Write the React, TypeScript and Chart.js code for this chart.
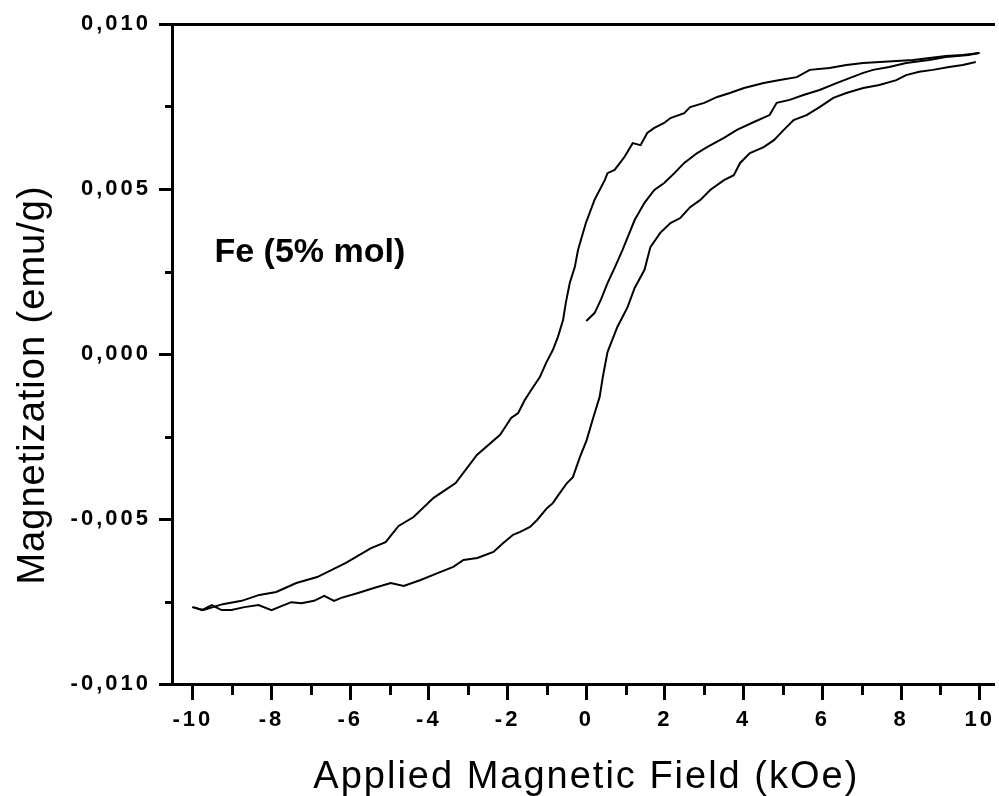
import React, { useEffect, useRef } from "react";
import { Chart, registerables } from "chart.js";

Chart.register(...registerables);

// Descending branch (from +10 kOe to -10 kOe)
const descH = [10.0, 9.57, 9.14, 8.31, 7.04, 6.61, 6.18, 5.68, 5.35, 4.92, 4.51, 4.01, 3.65, 3.33, 3.0, 2.64, 2.49, 2.14, 1.98, 1.73, 1.55, 1.38, 1.18, 0.97, 0.72, 0.54, 0.47, 0.21, -0.01, -0.21, -0.29, -0.42, -0.52, -0.59, -0.72, -0.85, -1.02, -1.18, -1.4, -1.56, -1.73, -1.91, -2.06, -2.19, -2.78, -3.32, -3.88, -4.39, -4.77, -5.1, -5.47, -6.11, -6.84, -7.37, -7.88, -8.31, -8.76, -9.24, -9.73, -10.02];
const descM = [0.00912, 0.00906, 0.00903, 0.00891, 0.00882, 0.00876, 0.00867, 0.00861, 0.00839, 0.0083, 0.00821, 0.00806, 0.00791, 0.00779, 0.00761, 0.00748, 0.0073, 0.00715, 0.007, 0.00685, 0.0067, 0.00633, 0.00639, 0.00597, 0.00558, 0.00548, 0.00527, 0.00467, 0.00397, 0.00315, 0.00264, 0.00215, 0.00155, 0.00103, 0.00052, 0.00012, -0.00027, -0.0007, -0.00109, -0.00139, -0.00179, -0.00194, -0.00221, -0.00245, -0.00306, -0.00391, -0.00436, -0.00494, -0.00521, -0.0057, -0.00588, -0.00633, -0.00676, -0.00694, -0.00721, -0.0073, -0.00748, -0.00758, -0.00776, -0.00767];

// Ascending branch (from -10 kOe to +10 kOe)
const ascH = [-9.98, -9.77, -9.52, -9.27, -9.02, -8.69, -8.33, -8.0, -7.75, -7.5, -7.24, -6.92, -6.66, -6.41, -6.23, -5.8, -5.4, -4.97, -4.64, -4.21, -3.78, -3.38, -3.12, -2.77, -2.36, -2.11, -1.86, -1.68, -1.43, -1.25, -1.0, -0.85, -0.67, -0.49, -0.34, -0.16, 0.01, 0.16, 0.34, 0.42, 0.54, 0.79, 1.05, 1.23, 1.48, 1.63, 1.88, 2.14, 2.39, 2.64, 2.9, 3.15, 3.5, 3.75, 3.91, 4.16, 4.51, 4.77, 5.02, 5.27, 5.6, 5.93, 6.28, 6.61, 7.04, 7.45, 7.88, 8.13, 8.46, 8.81, 9.22, 9.57, 9.9];
const ascM = [-0.00767, -0.00776, -0.00761, -0.00776, -0.00776, -0.00767, -0.00761, -0.00776, -0.00764, -0.00752, -0.00755, -0.00748, -0.00733, -0.00748, -0.00739, -0.00724, -0.00709, -0.00694, -0.00703, -0.00685, -0.00664, -0.00645, -0.00624, -0.00618, -0.006, -0.00573, -0.00548, -0.00539, -0.00524, -0.00503, -0.00467, -0.00452, -0.00421, -0.00391, -0.00373, -0.00312, -0.00261, -0.002, -0.0013, -0.0007, 0.00006, 0.00082, 0.00142, 0.002, 0.00255, 0.00324, 0.00367, 0.00397, 0.00412, 0.00445, 0.00467, 0.00497, 0.00527, 0.00542, 0.00579, 0.00609, 0.00627, 0.00648, 0.00679, 0.00709, 0.00724, 0.00748, 0.00776, 0.00791, 0.00806, 0.00815, 0.0083, 0.00845, 0.00855, 0.00861, 0.0087, 0.00876, 0.00885];

// Initial (virgin) magnetization curve
const virginH = [0.0, 0.21, 0.37, 0.54, 0.72, 0.92, 1.23, 1.48, 1.73, 1.98, 2.24, 2.49, 2.82, 3.07, 3.5, 3.83, 4.26, 4.66, 4.84, 5.17, 5.52, 5.93, 6.36, 6.69, 7.04, 7.29, 7.7, 8.13, 8.71, 9.14, 9.72, 9.97];
const virginM = [0.001, 0.00124, 0.00164, 0.00215, 0.00261, 0.00315, 0.00406, 0.00458, 0.00497, 0.00518, 0.00548, 0.00579, 0.00609, 0.00627, 0.00655, 0.00679, 0.00703, 0.00724, 0.00761, 0.0077, 0.00785, 0.008, 0.00821, 0.00836, 0.00852, 0.00861, 0.0087, 0.00882, 0.00891, 0.009, 0.00906, 0.00912];

const xMajorTicks = [-10, -8, -6, -4, -2, 0, 2, 4, 6, 8, 10];
const xMinorTicks = [-9, -7, -5, -3, -1, 1, 3, 5, 7, 9];
const yMajorTicks = [-0.01, -0.005, 0, 0.005, 0.01];
const yMinorTicks = [-0.0075, -0.0025, 0.0025, 0.0075];

const xTitle = "Applied Magnetic Field (kOe)";
const yTitle = "Magnetization (emu/g)";
const annotationText = "Fe (5% mol)";
const annotationH = -9.45;
const annotationM = 0.0028;

const FONT = '"Liberation Sans", Arial, sans-serif';

const toPoints = (hs: number[], ms: number[]) => hs.map((h, i) => ({ x: h, y: ms[i] }));

const formatY = (v: number) => {
  const s = Math.abs(v).toFixed(3).replace(".", ",");
  return v < -1e-12 ? "-" + s : s;
};

const overlayPlugin = {
  id: "overlay",
  beforeDraw(chart: any) {
    chart.ctx.letterSpacing = "3px";
  },
  afterDraw(chart: any) {
    const ctx = chart.ctx as CanvasRenderingContext2D;
    const xs = chart.scales.x;
    const ys = chart.scales.y;
    const { left, right, bottom } = chart.chartArea;
    ctx.save();
    ctx.strokeStyle = "#000";
    ctx.lineWidth = 3;
    ctx.lineCap = "butt";
    xMinorTicks.forEach((v) => {
      const px = Math.round(xs.getPixelForValue(v)) + 0.5;
      ctx.beginPath();
      ctx.moveTo(px, bottom);
      ctx.lineTo(px, bottom + 11);
      ctx.stroke();
    });
    yMinorTicks.forEach((v) => {
      const py = Math.round(ys.getPixelForValue(v)) + 0.5;
      ctx.beginPath();
      ctx.moveTo(left - 7, py);
      ctx.lineTo(left, py);
      ctx.stroke();
    });
    ctx.fillStyle = "#000";
    // annotation
    (ctx as any).letterSpacing = "0px";
    ctx.font = `bold 34px ${FONT}`;
    ctx.textAlign = "left";
    ctx.textBaseline = "alphabetic";
    ctx.fillText(annotationText, xs.getPixelForValue(annotationH), ys.getPixelForValue(annotationM));
    // x title
    (ctx as any).letterSpacing = "2px";
    ctx.font = `38px ${FONT}`;
    ctx.textAlign = "center";
    ctx.fillText(xTitle, (left + right) / 2 + 3, 788);
    // y title
    (ctx as any).letterSpacing = "1px";
    ctx.translate(34, 385);
    ctx.rotate(-Math.PI / 2);
    ctx.textBaseline = "middle";
    ctx.fillText(yTitle, 0, 0);
    ctx.restore();
  },
};

export default function App() {
  const canvasRef = useRef<HTMLCanvasElement | null>(null);

  useEffect(() => {
    if (!canvasRef.current) return;
    const lineStyle = {
      showLine: true,
      borderColor: "#000",
      backgroundColor: "#000",
      borderWidth: 2,
      pointRadius: 0,
      tension: 0,
      fill: false,
    };
    const chart = new Chart(canvasRef.current, {
      type: "scatter",
      data: {
        datasets: [
          { label: "descending", data: toPoints(descH, descM), ...lineStyle },
          { label: "ascending", data: toPoints(ascH, ascM), ...lineStyle },
          { label: "virgin", data: toPoints(virginH, virginM), ...lineStyle },
        ],
      },
      options: {
        animation: false,
        responsive: false,
        devicePixelRatio: 1,
        layout: { padding: 0 },
        plugins: {
          legend: { display: false },
          tooltip: { enabled: false },
          title: { display: false },
        },
        scales: {
          x: {
            type: "linear",
            position: "bottom",
            min: -10.53,
            max: 10.38,
            afterBuildTicks: (s: any) => {
              s.ticks = xMajorTicks.map((v) => ({ value: v }));
            },
            afterFit: (s: any) => {
              s.height = 112;
            },
            ticks: {
              autoSkip: false,
              maxRotation: 0,
              minRotation: 0,
              padding: 7,
              color: "#000",
              font: { family: FONT, size: 22, weight: "bold" },
              callback: (v: any) => String(v),
            },
            grid: {
              display: true,
              drawOnChartArea: false,
              drawTicks: true,
              tickLength: 16,
              tickWidth: 3,
              tickColor: "#000",
            },
            border: { display: true, width: 3, color: "#000" },
          },
          x2: {
            type: "linear",
            position: "top",
            min: -10.53,
            max: 10.38,
            afterFit: (s: any) => {
              s.height = 24;
            },
            ticks: { display: false },
            grid: { display: false, drawTicks: false, drawOnChartArea: false },
            border: { display: true, width: 3, color: "#000" },
          },
          y: {
            type: "linear",
            position: "left",
            min: -0.01,
            max: 0.01,
            afterBuildTicks: (s: any) => {
              s.ticks = yMajorTicks.map((v) => ({ value: v }));
            },
            afterFit: (s: any) => {
              s.width = 172;
            },
            ticks: {
              autoSkip: false,
              padding: 8,
              color: "#000",
              font: { family: FONT, size: 22, weight: "bold" },
              callback: (v: any) => formatY(Number(v)),
            },
            grid: {
              display: true,
              drawOnChartArea: false,
              drawTicks: true,
              tickLength: 13,
              tickWidth: 3,
              tickColor: "#000",
            },
            border: { display: true, width: 3, color: "#000" },
          },
        },
      } as any,
      plugins: [overlayPlugin],
    });
    return () => chart.destroy();
  }, []);

  return (
    <div style={{ position: "fixed", left: 0, top: 0, width: 999, height: 796, background: "#fff" }}>
      <canvas ref={canvasRef} width={999} height={796} style={{ display: "block", width: 999, height: 796 }} />
    </div>
  );
}
